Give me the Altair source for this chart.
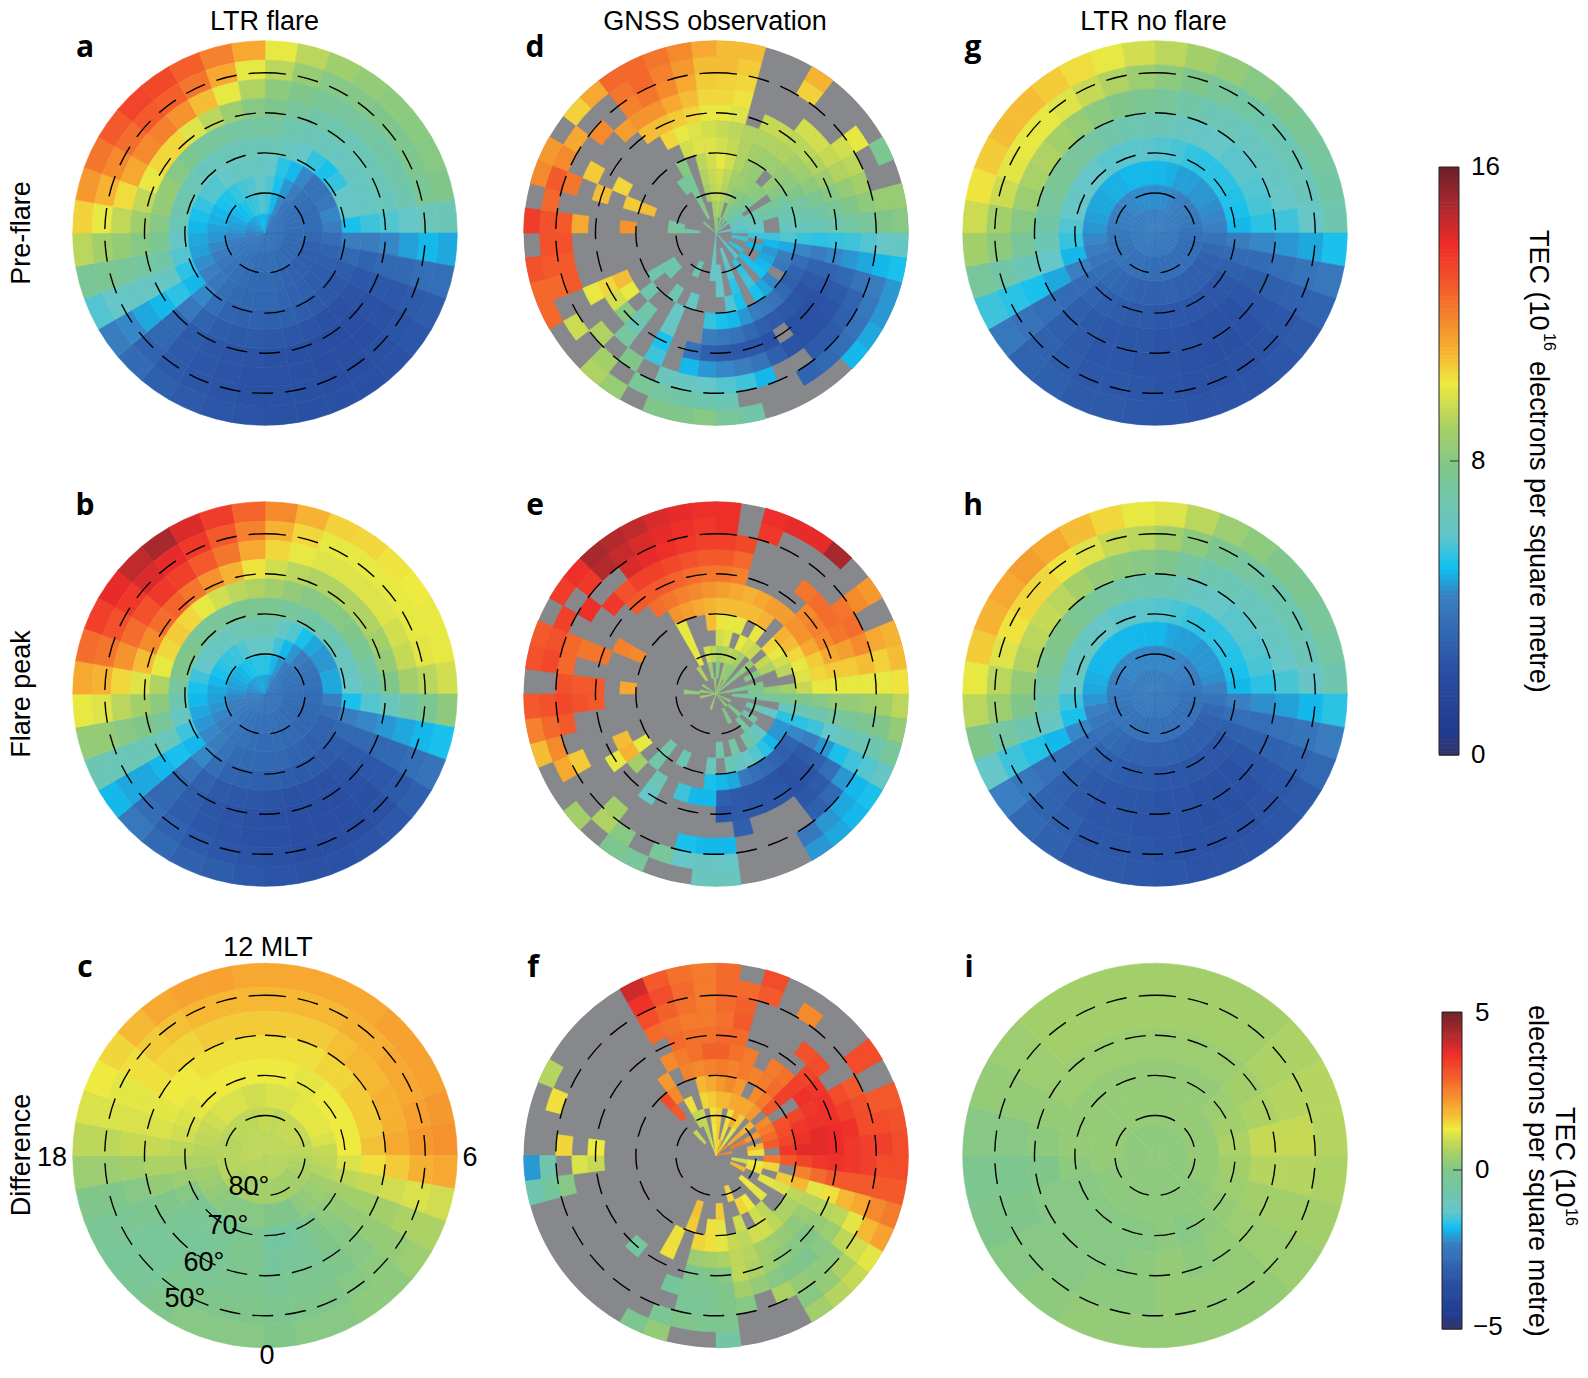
import math
import altair as alt
import pandas as pd

_ = None
# All grids: rows run from the outer ring inward, columns clockwise from 12 MLT.
# Values in tenths of the displayed unit; _ marks a cell with no data.
panel_a = [
[100,92,87,84,82,81,80,78,65,48,36,29,26,24,23,23,23,24,25,26,28,30,35,42,58,75,92,105,115,122,128,133,132,127,120,112],
[92,85,80,79,78,77,77,75,65,50,36,28,25,23,22,22,23,24,24,25,26,28,32,44,60,76,88,100,110,118,124,128,127,122,112,100],
[82,78,75,73,72,71,70,68,60,47,34,27,24,22,22,22,23,24,24,25,26,28,33,48,62,74,84,93,103,112,118,120,116,108,100,90],
[77,73,70,68,66,66,66,64,58,44,33,27,24,22,21,22,23,24,25,25,26,28,34,50,62,72,80,87,93,100,104,104,98,92,86,80],
[72,68,65,64,63,63,62,62,56,42,32,27,25,24,24,25,26,27,28,28,29,32,40,54,62,70,76,80,84,84,80,76,74,73,72,72],
[66,64,60,55,52,55,60,60,52,42,34,29,27,27,28,29,30,30,31,31,32,36,44,50,54,58,62,65,68,68,66,64,64,65,66,66],
[60,54,50,44,38,38,40,44,42,36,32,30,29,29,30,31,32,33,33,33,34,36,40,43,45,47,48,50,52,55,58,58,60,62,62,62],
[58,52,46,42,38,36,35,35,35,33,31,30,30,30,31,32,33,34,34,34,35,36,38,40,42,44,46,47,49,50,52,53,55,57,58,60],
[56,50,44,40,38,37,36,36,36,35,34,34,34,34,35,35,36,36,36,36,37,38,39,40,41,42,44,46,47,48,50,51,53,55,56,58],
[50,46,42,40,39,38,38,38,38,37,37,37,37,37,38,38,38,38,38,38,39,39,40,40,41,42,43,44,45,46,46,47,48,49,50,50],
]
panel_b = [
[118,110,105,104,102,101,100,100,96,82,52,38,30,27,25,24,24,25,27,29,31,34,40,50,66,84,100,112,124,134,140,146,150,142,135,126],
[110,104,100,100,100,100,100,99,92,76,50,36,28,24,22,22,22,24,25,26,28,31,36,48,66,84,98,110,122,130,136,142,140,136,128,120],
[104,100,98,98,98,98,96,94,88,70,48,34,27,23,22,22,22,23,24,25,26,29,33,48,66,80,92,104,116,124,130,136,134,128,122,112],
[96,92,90,90,90,90,88,84,78,64,46,33,27,24,22,22,22,23,24,25,26,29,34,50,66,78,88,98,108,118,124,126,122,116,110,102],
[88,84,80,80,80,78,76,72,68,58,44,33,28,25,24,24,24,25,26,27,28,31,38,52,64,74,82,90,100,104,106,104,100,96,92,90],
[76,74,72,70,68,66,64,62,60,52,42,33,29,28,28,28,29,30,30,31,32,36,44,50,56,62,68,73,78,78,76,74,74,74,76,76],
[68,62,58,52,48,46,46,48,48,42,36,32,31,30,31,32,33,33,34,34,35,38,42,44,46,48,50,52,56,60,62,63,64,66,68,68],
[60,56,50,46,42,40,38,37,36,35,34,33,33,33,34,34,35,35,35,36,37,38,40,42,44,46,47,48,50,52,54,55,56,58,60,60],
[54,50,46,42,40,39,38,37,37,36,36,35,35,35,36,36,37,37,37,37,38,39,40,41,42,43,44,46,47,48,49,50,52,53,54,54],
[48,46,44,42,41,40,40,39,39,38,38,38,38,38,38,38,39,39,39,39,40,40,41,41,42,42,43,44,45,46,46,47,47,48,48,48],
]
panel_c = [
[20,20,20,20,21,21,21,22,23,20,10,6,4,2,2,1,1,0,1,1,1,0,-2,-3,-2,0,4,8,11,13,15,18,20,21,21,20],
[18,18,18,19,19,20,20,21,22,19,11,6,3,2,1,0,0,-1,0,0,0,-1,-3,-3,-2,0,4,8,11,12,14,16,17,18,18,18],
[16,16,16,17,18,18,19,19,20,16,10,5,3,1,0,-1,-1,-2,-1,-1,-2,-2,-3,-3,-1,1,5,9,11,12,14,15,15,16,16,16],
[14,14,14,15,15,16,16,16,17,14,9,5,3,1,0,-2,-3,-4,-1,-1,-2,-3,-3,-2,0,3,6,9,11,12,13,13,14,14,14,14],
[13,13,12,12,13,13,13,13,13,11,8,5,3,2,0,-3,-5,-5,-1,-1,-2,-2,-2,-1,1,4,6,8,10,11,12,13,13,13,13,13],
[11,11,11,12,12,12,12,11,9,8,7,5,4,3,2,0,0,0,1,1,1,1,2,3,4,5,6,7,8,9,10,11,11,11,10,10],
[9,8,9,9,9,9,9,8,8,7,6,6,5,5,5,5,5,5,5,5,5,6,6,6,7,7,7,7,7,7,8,8,8,8,8,9],
[8,8,8,8,8,8,8,8,8,7,7,7,7,7,7,7,7,7,7,7,7,7,7,7,7,8,8,8,8,8,8,8,8,8,8,8],
]
panel_g = [
[92,88,84,80,77,75,73,71,68,52,40,32,28,26,25,25,25,26,27,28,28,30,32,40,56,74,88,95,102,106,108,108,106,103,100,96],
[82,78,74,71,68,67,66,64,60,48,38,31,27,25,24,24,24,25,26,27,27,29,31,38,54,70,82,88,95,99,100,100,98,94,90,86],
[74,70,67,65,63,62,62,60,56,46,36,30,26,24,23,23,24,25,25,26,26,28,30,36,52,66,74,80,86,89,90,88,85,81,78,76],
[66,63,61,60,59,59,58,57,54,44,35,29,26,24,24,24,25,25,26,26,27,28,30,35,48,60,66,70,73,75,75,74,72,70,68,67],
[58,57,55,54,54,54,53,52,50,42,35,30,27,26,26,26,27,27,28,28,29,30,32,35,43,50,55,58,60,61,60,60,59,59,59,59],
[50,49,47,47,46,46,45,44,43,38,34,31,30,30,30,30,31,31,31,31,32,33,34,36,39,42,44,46,47,48,48,49,49,50,50,50],
[45,45,44,43,42,42,41,40,39,37,36,36,36,36,36,36,36,36,36,36,37,37,37,38,38,39,40,41,42,43,43,44,44,45,45,45],
[43,43,43,43,42,42,42,42,41,41,40,40,40,40,40,40,40,40,40,40,41,41,41,41,41,41,42,42,42,42,42,42,43,43,43,43],
]
panel_h = [
[98,92,86,82,78,76,74,72,68,54,42,33,28,26,25,25,25,26,27,28,28,31,34,43,60,78,92,100,106,110,112,114,112,108,104,100],
[88,82,76,73,70,68,67,65,61,50,39,32,27,25,24,24,24,25,26,27,27,30,32,40,56,72,86,92,98,102,104,104,102,98,94,92],
[78,72,68,66,64,63,62,60,57,47,37,31,26,24,23,23,24,25,25,26,26,28,31,37,53,68,78,84,90,92,94,92,88,84,82,80],
[68,65,62,60,59,59,58,57,54,45,36,30,26,24,24,24,25,25,26,26,27,28,30,36,50,62,68,72,76,78,78,76,74,72,70,69],
[58,57,55,54,54,54,53,52,50,43,36,30,27,26,26,26,27,27,28,28,29,30,32,36,44,52,56,60,62,62,62,61,60,59,59,59],
[50,48,47,47,46,46,46,45,43,39,34,31,30,30,30,30,31,31,31,31,32,33,35,37,40,43,46,48,49,50,50,50,50,50,50,50],
[44,44,44,44,43,43,42,41,40,38,37,37,37,37,37,37,37,37,37,37,38,38,38,39,39,40,41,42,43,43,44,44,44,44,44,44],
[42,42,42,42,41,41,41,41,40,40,40,40,40,40,40,40,40,40,40,40,41,41,41,41,41,41,42,42,42,42,42,42,42,42,42,42],
]
panel_i = [
[5,5,5,6,7,7,6,5,4,3,3,3,3,3,2,1,0,-1,1,3,4,5,5,5],
[5,5,5,6,7,9,7,5,4,3,3,3,2,2,1,1,0,-1,1,3,4,5,5,5],
[4,4,4,5,6,9,7,5,4,3,2,3,2,1,1,1,1,0,2,3,4,4,4,4],
[3,3,3,4,5,6,5,4,3,2,1,2,1,1,1,1,1,2,3,3,3,3,3,3],
[3,3,3,3,3,3,3,3,2,2,2,2,2,2,2,2,2,3,3,3,3,3,3,3],
[2,2,2,2,2,2,2,2,2,2,2,2,2,2,2,2,2,2,2,2,2,2,2,2],
]
panel_d = [
[108,108,_,_,110,_,_,_,76,_,85,80, 62,52,46,46,48,50,_,_,_,_,70,74, 80,78,78,_,85,90,_,_,125,125,130,_, 135,_,118,115,_,105,112,125,125,122,118,112],
[108,106,_,_,105,_,_,100,_,_,85,78, 60,50,42,40,38,36,34,32,_,_,_,66, 68,70,72,75,_,88,_,95,_,125,128,130, 130,125,128,118,112,_,_,122,125,120,115,108],
[105,104,_,_,_,_,_,96,92,88,82,74, 58,48,38,32,30,28,28,_,_,50,56,58, 60,62,64,_,78,_,90,_,_,128,128,130, 128,_,122,_,_,118,_,120,122,118,112,106],
[104,102,_,_,_,96,96,94,90,84,78,72, 56,46,34,28,25,24,24,25,30,38,42,44, 46,50,_,56,_,72,_,_,100,_,_,_, 112,_,_,106,_,_,114,116,116,112,108,104],
[100,98,_,94,94,92,92,90,86,80,74,68, 55,44,32,27,24,23,24,_,24,26,27,28, 30,38,_,52,_,66,80,96,104,_,_,_, _,_,108,_,_,_,_,108,108,106,104,100],
[94,92,90,90,90,90,88,86,82,76,70,66, 54,42,32,28,25,26,27,28,30,34,38,40, 42,_,_,62,_,70,_,100,108,_,_,_, _,_,_,104,_,_,_,_,104,100,98,96],
[96,94,90,88,86,86,84,82,78,72,68,64, 55,44,36,32,30,34,38,40,42,46,50,52, 55,_,_,60,_,_,68,_,_,_,_,_, 116,_,106,_,_,_,_,_,_,96,98,98],
[100,96,90,86,84,_,84,80,74,68,66,62, 58,48,42,40,_,44,48,52,_,52,58,_, _,_,62,_,68,_,_,70,_,_,_,_, _,_,108,_,_,_,_,_,80,_,92,96],
[96,92,88,86,84,82,80,_,74,70,_,_, 56,50,46,48,50,52,_,56,_,54,_,60, _,_,_,_,_,_,68,68,_,_,_,_, _,_,_,_,_,_,_,74,74,_,90,94],
[94,90,86,82,80,78,74,_,68,66,62,60, 56,_,50,_,_,52,_,54,_,58,_,62, 60,_,_,66,_,_,_,_,_,_,_,_, 74,72,_,_,_,_,_,_,76,_,88,92],
[90,86,_,82,76,72,68,66,64,62,60,58, _,56,_,_,54,_,58,_,_,60,_,_, 64,_,_,_,_,_,_,_,_,_,_,_, 70,_,_,_,_,_,_,_,80,_,_,88],
[84,_,80,_,74,_,70,_,_,_,64,_, _,_,_,_,_,_,60,_,_,_,_,_, 62,_,_,_,_,_,_,_,_,_,_,_, _,_,_,_,_,78,_,_,_,_,_,82],
]
panel_e = [
[138,_,138,140,140,150,_,115,_,110,108,102, 92,84,74,62,52,50,48,46,_,_,_,64, 64,_,_,74,76,_,88,_,_,108,120,128, _,130,128,_,135,138,150,148,146,142,140,138],
[138,_,136,_,_,_,_,118,_,112,105,100, 88,78,68,58,50,48,46,40,_,_,_,60, 62,60,74,_,80,90,_,_,112,118,125,130, _,132,130,134,_,136,148,145,142,140,138,136],
[134,132,_,_,_,_,_,122,124,118,108,100, 86,76,66,56,46,34,30,_,_,_,_,50, 50,52,_,_,_,88,_,_,106,_,128,132, 130,125,125,_,138,_,_,142,140,138,136,134],
[128,125,_,_,_,122,124,124,122,114,106,100, 84,74,64,52,36,28,26,_,_,_,30,_, _,_,_,_,_,_,_,_,_,_,_,130, 128,_,122,_,_,136,130,134,134,132,130,128],
[122,120,_,_,_,_,118,120,118,112,106,100, 84,72,60,46,30,25,24,26,26,27,28,26, _,_,_,_,60,_,_,100,_,_,_,128, 128,_,122,_,_,_,128,128,128,126,124,122],
[114,112,110,112,114,114,116,116,112,106,104,100, 80,68,56,42,28,25,24,25,26,27,28,30, 50,50,56,_,66,_,88,110,108,_,_,_, _,_,_,120,_,_,_,124,122,120,118,116],
[108,108,108,108,110,_,110,108,104,100,98,94, 78,66,54,44,32,30,32,34,36,40,48,50, 52,_,_,_,_,70,_,100,_,_,_,_, 112,_,_,118,_,_,_,_,116,114,112,110],
[102,100,100,_,100,_,104,100,96,92,_,88, 76,64,54,46,46,50,54,58,60,62,66,_, 64,_,_,66,_,70,_,_,_,_,_,_, _,_,_,_,_,_,_,_,100,_,_,108],
[96,98,_,100,96,94,_,94,90,_,_,84, 74,_,60,_,_,62,66,70,_,72,_,70, _,_,_,_,_,_,_,_,_,_,_,_, _,_,_,_,_,_,_,_,100,_,_,_],
[88,90,92,90,88,_,84,_,80,_,78,76, 72,_,70,_,70,_,72,_,_,_,_,_, _,_,_,_,_,_,_,_,_,_,_,_, _,_,_,_,_,_,_,_,100,_,96,92],
[80,_,86,84,82,_,80,_,_,_,76,_, 74,_,_,_,_,76,_,_,78,_,_,_, _,_,_,_,_,_,_,_,_,_,_,_, 84,_,_,_,_,_,_,90,_,_,86,_],
[_,_,86,_,84,_,82,_,_,_,80,_, _,_,_,82,_,_,84,_,_,_,_,_, _,_,86,_,_,_,_,_,_,_,88,_, _,86,_,_,84,_,_,_,_,_,_,84],
]
panel_f = [
[28,_,32,_,_,_,_,32,_,30,31,32, 32,30,26,21,12,9,7,5,_,_,_,-5, _,_,3,-1,_,_,_,_,_,_,-8,-21, _,_,_,7,_,_,_,_,40,30,27,26],
[28,28,30,_,24,_,_,32,_,30,32,34, 32,30,24,18,10,6,3,1,_,_,_,-1, -1,0,-2,_,_,_,_,_,_,_,-4,-7, _,_,14,_,_,_,_,_,36,32,28,26],
[28,29,_,_,_,_,_,_,30,32,32,34, 34,30,20,12,8,2,2,3,6,_,1,0, -2,-3,_,_,_,_,_,_,_,_,1,_, 15,_,_,_,_,_,_,_,32,29,27,26],
[27,30,_,_,_,31,32,_,32,34,36,35, 35,30,18,8,4,1,-1,0,1,3,5,0, -2,-2,-4,_,_,_,_,_,_,_,_,11, _,_,_,_,_,_,_,_,28,27,26,26],
[28,28,_,_,_,_,33,35,36,36,37,37, 36,30,14,7,3,0,1,2,4,6,8,1, 0,-1,_,_,_,-5,_,_,_,_,_,9, 13,_,_,_,_,_,_,_,_,28,27,27],
[29,27,26,_,26,27,34,36,35,36,38,38, 35,28,12,7,4,2,3,4,5,7,8,6, 5,4,_,14,_,_,_,_,_,_,_,_, _,_,_,_,_,_,_,_,24,26,27,29],
[26,25,26,25,26,28,34,_,33,35,36,38, 33,25,18,8,6,6,8,10,10,8,9,12, 14,15,_,14,_,_,_,_,_,_,_,_, _,_,_,_,_,_,_,22,_,25,24,25],
[22,24,22,_,24,26,30,_,31,32,33,35, 30,_,16,11,_,_,8,10,_,10,_,12, 14,_,16,_,_,_,_,_,_,_,_,_, _,_,_,_,_,_,32,24,_,_,18,20],
[18,18,20,20,20,22,_,24,26,28,30,_, 26,15,_,12,_,12,_,13,15,_,_,16, _,_,17,_,_,_,_,_,_,_,_,_, _,_,_,_,_,_,30,_,14,_,15,16],
[16,_,14,20,16,_,18,_,22,_,18,14, _,13,14,_,_,13,_,_,_,15,_,_, _,_,_,_,_,_,_,_,_,_,_,_, _,_,_,_,_,_,_,_,8,9,_,14],
[16,_,14,_,12,_,20,_,26,_,_,_, _,10,_,18,_,_,_,_,_,_,_,_, _,_,_,_,_,_,_,_,_,_,_,_, _,_,_,_,_,_,9,_,_,8,_,13],
[16,14,18,_,14,_,24,_,_,_,24,_, _,_,_,_,_,_,_,_,_,_,_,_, _,_,_,_,_,_,_,_,_,_,_,_, _,_,_,_,_,_,_,_,_,10,_,14],
]

col_x = [257, 708, 1147]     # panel centres on the canvas
row_y = [225, 686, 1147.5]
panels_tec = {"a": (panel_a, 0, 0), "b": (panel_b, 0, 1), "d": (panel_d, 1, 0),
              "e": (panel_e, 1, 1), "g": (panel_g, 2, 0), "h": (panel_h, 2, 1)}
panels_diff = {"c": (panel_c, 0, 2), "f": (panel_f, 1, 2), "i": (panel_i, 2, 2)}
ring_lats = [80, 70, 60, 50]

tec_stops = [0, 0.6, 2.4, 4.3, 5.1, 6.0, 6.9, 7.8, 8.8, 9.4, 10.1, 10.9, 11.8, 12.8, 13.9, 14.8, 16]
diff_stops = [-5, -4.6, -3.5, -2.3, -1.8, -1.3, -0.7, 0, 0.5, 0.9, 1.3, 1.8, 2.4, 3.0, 3.7, 4.25, 5]
ramp = ["#353564", "#213a8f", "#2a51a4", "#3a7fc1", "#0fc0f0", "#66c6c8", "#6fc6ac", "#80c68a", "#a3cf6a",
        "#c6d955", "#eeea40", "#f6b733", "#f58a2d", "#f3592b", "#ee2b29", "#b22a2e", "#6e2028"]


def cells(panels):
    out = []
    for rows, c, r in panels.values():
        m, n = len(rows), len(rows[0])
        for i, row in enumerate(rows):
            for j, v in enumerate(row):
                if v is None:
                    continue
                out.append({"cx": col_x[c], "cy": row_y[r], "a0": j * 360 / n, "a1": (j + 1) * 360 / n,
                            "lat0": 42 + i * 48 / m, "lat1": 42 + (i + 1) * 48 / m, "v": v / 10})
    return pd.DataFrame(out)


theta_scale = alt.Scale(domain=[0, 360], range=[0, math.tau])
radius_scale = alt.Scale(type="linear", domain=[90, 42], range=[0, 192.3], zero=False)
X = alt.X("cx:Q", scale=None, axis=None)
Y = alt.Y("cy:Q", scale=None, axis=None)
PX = alt.X("x:Q", scale=None, axis=None)
PY = alt.Y("y:Q", scale=None, axis=None)
TH = alt.Theta("a0:Q", scale=theta_scale, stack=None)
TH2 = alt.Theta2("a1:Q")
R = alt.Radius("lat0:Q", scale=radius_scale)
R2 = alt.Radius2("lat1:Q")

FONT = "Liberation Sans"

gray = pd.DataFrame([{"cx": col_x[1], "cy": row_y[r], "a0": 0, "a1": 360, "lat0": 42, "lat1": 90} for r in range(3)])
gray_layer = alt.Chart(gray).mark_arc(fill="#87888b").encode(x=X, y=Y, theta=TH, theta2=TH2, radius=R, radius2=R2)


def arc_layer(df, stops):
    scale = alt.Scale(domain=stops, range=ramp, interpolate="rgb")
    return alt.Chart(df).mark_arc(strokeWidth=0.6).encode(
        x=X, y=Y, theta=TH, theta2=TH2, radius=R, radius2=R2,
        color=alt.Color("v:Q", scale=scale, legend=None),
        stroke=alt.Stroke("v:Q", scale=scale, legend=None),
    )


def colorbar(stops, left, top, length):
    lo, hi = stops[0], stops[-1]
    n = 150
    rows = []
    for i in range(n):
        rows.append({"x": left, "x2": left + 20, "y": top + i * length / n,
                     "y2": top + (i + 1) * length / n + 0.6, "v": hi - (hi - lo) * (i + 0.5) / n})
    scale = alt.Scale(domain=stops, range=ramp, interpolate="rgb")
    bar = alt.Chart(pd.DataFrame(rows)).mark_rect().encode(
        x=PX, x2="x2:Q", y=PY, y2="y2:Q", color=alt.Color("v:Q", scale=scale, legend=None))
    frame = alt.Chart(pd.DataFrame([{"x": left, "x2": left + 20, "y": top, "y2": top + length}])).mark_rect(
        fill="transparent", stroke="#222222", strokeWidth=1).encode(x=PX, x2="x2:Q", y=PY, y2="y2:Q")
    return alt.layer(bar, frame)


rings = pd.DataFrame([{"cx": x, "cy": y, "a0": 0, "a1": 360, "lat": lat}
                      for x in col_x for y in row_y for lat in ring_lats])
ring_layer = alt.Chart(rings).mark_arc(fill="transparent", stroke="black", strokeWidth=1.4,
                                       strokeDash=[21, 12]).encode(
    x=X, y=Y, theta=TH, theta2=TH2, radius=alt.Radius("lat:Q", scale=radius_scale))

labels = [
    ("LTR flare", 256.5, 14, 0), ("GNSS observation", 707, 14, 0), ("LTR no flare", 1145.5, 14, 0),
    ("Pre-flare", 14, 225, -90), ("Flare peak", 14, 686, -90), ("Difference", 14, 1147, -90),
    ("12 MLT", 260, 940, 0), ("18", 44, 1150, 0), ("6", 462, 1150, 0), ("0", 259, 1348, 0),
    ("80°", 241, 1179, 0), ("70°", 220, 1218, 0), ("60°", 196, 1255, 0), ("50°", 177, 1291, 0),
]
tdf = pd.DataFrame(labels, columns=["t", "x", "y", "ang"])
text_layer = alt.Chart(tdf).mark_text(font=FONT, fontSize=27, baseline="middle", align="center",
                                      color="black").encode(
    x=PX, y=PY, text="t:N", angle=alt.Angle("ang:Q", scale=None))

bar_labels = [("16", 1463, 159), ("8", 1463, 453), ("0", 1463, 747),
              ("5", 1467, 1005), ("0", 1467, 1162), ("\u22125", 1465, 1319)]
bdf = pd.DataFrame(bar_labels, columns=["t", "x", "y"])
bar_label_layer = alt.Chart(bdf).mark_text(font=FONT, fontSize=26, baseline="middle", align="left",
                                           color="black").encode(x=PX, y=PY, text="t:N")

titles = [
    ("TEC (10", 1530, 222, 27), ("16", 1541, 325, 16), ("electrons per square metre)", 1530, 353, 27),
    ("TEC (10", 1556, 1099, 27), ("16", 1563, 1200, 16), ("electrons per square metre)", 1529, 997, 27),
]
cdf = pd.DataFrame(titles, columns=["t", "x", "y", "size"])
title_layer = alt.Chart(cdf).mark_text(font=FONT, baseline="middle", align="left", angle=90, color="black").encode(
    x=PX, y=PY, text="t:N", size=alt.Size("size:Q", scale=None, legend=None))

letters = [("a", 77, 49), ("b", 77, 507), ("c", 77, 969), ("d", 527, 49), ("e", 527, 507), ("f", 525, 969),
           ("g", 965, 49), ("h", 965, 507), ("i", 961, 969)]
ldf = pd.DataFrame(letters, columns=["t", "x", "y"])
letter_layer = alt.Chart(ldf).mark_text(font="Open Sans", fontWeight="bold", fontSize=30, align="center",
                                        baseline="alphabetic", color="black").encode(x=PX, y=PY, text="t:N")

tick_df = pd.DataFrame([{"x": 1442, "x2": 1451, "y": 453}, {"x": 1445, "x2": 1454, "y": 1162}])
tick_layer = alt.Chart(tick_df).mark_rule(color="#333333", strokeWidth=1).encode(x=PX, x2="x2:Q", y=PY)

chart = alt.layer(
    gray_layer,
    arc_layer(cells(panels_tec), tec_stops),
    arc_layer(cells(panels_diff), diff_stops),
    colorbar(tec_stops, 1431, 159, 588),
    colorbar(diff_stops, 1434, 1004, 317),
    ring_layer, text_layer, bar_label_layer, title_layer, letter_layer, tick_layer,
).resolve_scale(color="independent", stroke="independent").properties(
    width=1572, height=1362, padding=0, autosize=alt.AutoSizeParams(type="none")
).configure_view(stroke=None)

chart.save("out.html", embed_options={"renderer": "svg", "actions": False})
